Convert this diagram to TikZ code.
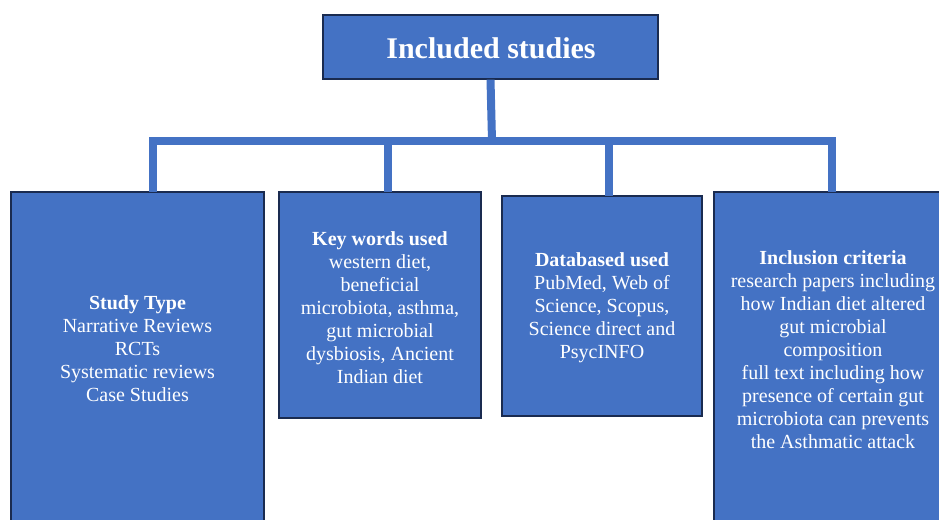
\documentclass[tikz,border=0pt]{standalone}
\usepackage{fontspec}
\setmainfont{Liberation Serif}
\definecolor{boxblue}{HTML}{4472C4}
\definecolor{boxedge}{HTML}{1A2B50}
\begin{document}
\begin{tikzpicture}[x=1pt,y=-1pt,
  box/.style={draw=boxedge, line width=1.2pt, fill=boxblue, rectangle, inner sep=0pt},
  txt/.style={text=white, align=center, inner sep=0pt, font=\fontsize{20pt}{23pt}\selectfont},
  conn/.style={draw=boxblue, line width=8pt, line join=miter}]
\useasboundingbox (0,0) rectangle (939,519);
\clip (0,0) rectangle (939,519);
% top box
\node[box, minimum width=335pt, minimum height=64pt] (top) at (490.5,47) {};
\node[txt, font=\fontsize{30pt}{34pt}\selectfont\bfseries] (toptxt) at (491,48.5) {Included studies};
% lower boxes
\node[box, minimum width=253pt, minimum height=338pt] (b1) at (137.5,361) {};
\node[box, minimum width=202pt, minimum height=226pt] (b2) at (380,305) {};
\node[box, minimum width=200pt, minimum height=220pt] (b3) at (602,306) {};
\node[box, minimum width=236pt, minimum height=338pt] (b4) at (832,361) {};
% texts
\node[txt] (t1) at (137.5,348.5) {\textbf{Study Type}\\Narrative Reviews\\RCTs\\Systematic reviews\\Case Studies};
\node[txt] (t2) at (380,307.5) {\textbf{Key words used}\\western diet,\\beneficial\\microbiota, asthma,\\gut microbial\\dysbiosis, Ancient\\Indian diet};
\node[txt] (t3) at (602,307.5) {\textbf{Databased used}\\PubMed, Web of\\Science, Scopus,\\Science direct and\\PsycINFO};
\node[txt] (t4) at (833,349.5) {\textbf{Inclusion criteria}\\research papers including\\how Indian diet altered\\gut microbial\\composition\\full text including how\\presence of certain gut\\microbiota can prevents\\the Asthmatic attack};
% connectors
\coordinate (hub) at (492,141);
\coordinate (c1) at (152.5,192);
\coordinate (c2) at (388,192);
\coordinate (c3) at (609,196);
\coordinate (c4) at (832,192);
\draw[conn] (top.south) -- (hub);
\draw[conn] (c1) -- (c1 |- hub) -| (c4);
\draw[conn] (c2 |- hub) -- (c2);
\draw[conn] (c3 |- hub) -- (c3);
\end{tikzpicture}
\end{document}
